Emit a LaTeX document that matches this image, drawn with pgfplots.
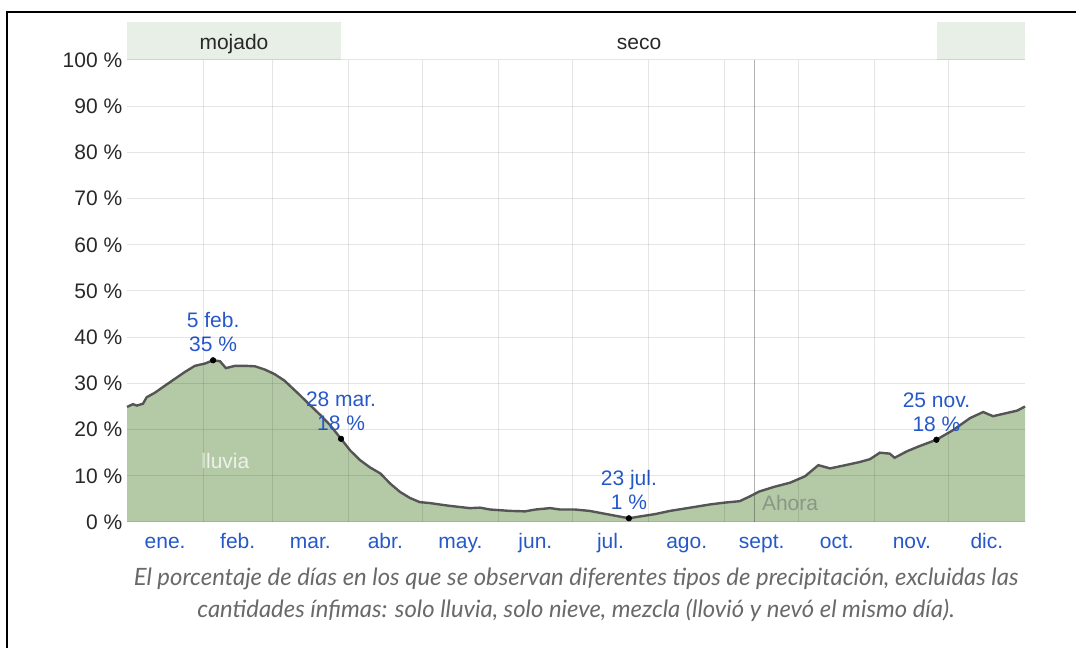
\documentclass[border=0pt]{standalone}
\usepackage{fontspec}
\setmainfont{Liberation Sans}
\newfontfamily\capfont{Lato}
\usepackage{pgfplots}
\usepackage{pgfplotstable}
\pgfplotsset{compat=1.18}
\definecolor{fillg}{RGB}{180,202,167}
\definecolor{lineg}{RGB}{85,85,85}
\definecolor{bandg}{RGB}{232,239,230}
\definecolor{blu}{RGB}{38,88,200}
\definecolor{capc}{RGB}{105,105,105}
\definecolor{tickc}{RGB}{40,40,40}

\pgfplotstableread{
day val
0 24.9
2.4 25.5
4 25.2
6.5 25.6
8 27.0
11.4 28.0
15.4 29.5
19.5 31.0
23.6 32.5
27.6 33.8
31.7 34.3
35 35.0
37.8 34.8
40.2 33.3
43.9 33.8
48 33.8
52 33.7
56 33.0
60 32.0
64 30.6
70 27.6
74 25.5
78.5 23.2
82.5 21.0
87 18.0
90.7 15.5
94.7 13.4
98.8 11.8
103 10.5
107 8.3
111 6.5
115 5.2
119 4.3
123 4.1
131 3.5
139.4 3.0
143.5 3.1
147.6 2.7
155.7 2.4
161.8 2.3
166 2.7
172 3.0
176 2.7
182 2.7
188 2.4
196 1.6
204 0.8
208.5 1.2
214.6 1.7
220.7 2.4
228.9 3.1
237 3.8
243 4.2
249 4.5
253 5.5
257 6.6
263 7.6
269.5 8.5
275.6 9.9
281 12.3
285.8 11.6
292 12.3
298 13.0
302 13.6
306 15.0
310 14.8
312 13.9
317 15.3
322 16.4
329 17.8
335.8 19.9
342.7 22.5
348 23.8
352 22.9
357.7 23.6
361.8 24.1
365 25.0
}\rain

\begin{document}
\begin{tikzpicture}[x=0.75pt,y=0.75pt]
\useasboundingbox (0,0) rectangle (1076,648);
\draw[line width=1.5pt] (7,0) -- (7,635.5) -- (1076,635.5);
\fill[bandg] (127,588) rectangle (341,626);
\fill[bandg] (937,588) rectangle (1025,626);
\node[font=\fontsize{15.75}{18}\selectfont, text=tickc] at (234,604) {mojado};
\node[font=\fontsize{15.75}{18}\selectfont, text=tickc] at (639,604) {seco};
\node[font=\capfont\itshape\fontsize{17.9}{24}\selectfont, text=capc, align=center] at (576,53) {El porcentaje de días en los que se observan diferentes tipos de precipitación, excluidas las\\cantidades ínfimas: solo lluvia, solo nieve, mezcla (llovió y nevó el mismo día).};
\begin{axis}[
  at={(95.25pt,94.5pt)}, anchor=south west,
  scale only axis, width=673.5pt, height=346.5pt,
  xmin=0, xmax=365, ymin=0, ymax=100,
  axis line style={draw=none},
  axis on top,
  clip=false,
  font=\fontsize{15.75}{18}\selectfont,
  /pgf/number format/assume math mode=true,
  xtick={15.5,45,74.5,105,135.5,166,196.5,227.5,258,288.5,319,349.5},
  xticklabels={ene.,feb.,mar.,abr.,may.,jun.,jul.,ago.,sept.,oct.,nov.,dic.},
  xticklabel style={text=blu, anchor=north, text height=0.75em, text depth=0.22em, yshift=-8.5pt},
  xtick style={draw=none},
  extra x ticks={31,59,90,120,151,181,212,243,273,304,334},
  extra x tick labels={},
  extra x tick style={grid=major, tick align=outside, major tick length=6pt, tick style={draw=black, opacity=0.1, line width=0.75pt}},
  ytick={0,10,...,100},
  yticklabels={0 \%,10 \%,20 \%,30 \%,40 \%,50 \%,60 \%,70 \%,80 \%,90 \%,100 \%},
  yticklabel style={text=tickc},
  ytick style={draw=none},
  ymajorgrids,
  major grid style={draw=black, opacity=0.1, line width=0.75pt},
]
\addplot[fill=fillg, draw=none] table[x=day,y=val] {\rain} \closedcycle;
\draw[black, opacity=0.3, line width=0.9pt] (axis cs:255,0) -- (axis cs:255,100);
\addplot[lineg, line width=1.8pt] table[x=day,y=val] {\rain};
\addplot[only marks, mark=*, mark size=2.1pt, black] coordinates {(35,35.0)(87,18.0)(204,0.8)(329,17.8)};
\node[text=blu, align=center, anchor=south, inner sep=0pt, yshift=6pt] at (axis cs:35,35) {5 feb.\\35 \%};
\node[text=blu, align=center, anchor=south, inner sep=0pt, yshift=6pt] at (axis cs:87,18) {28 mar.\\18 \%};
\node[text=blu, align=center, anchor=south, inner sep=0pt, yshift=6pt] at (axis cs:204,0.8) {23 jul.\\1 \%};
\node[text=blu, align=center, anchor=south, inner sep=0pt, yshift=6pt] at (axis cs:329,17.8) {25 nov.\\18 \%};
\node[text={rgb,255:red,236;green,241;blue,233}] at (axis cs:40,13.2) {lluvia};
\node[text={rgb,255:red,140;green,150;blue,135}] at (axis cs:269.5,4.1) {Ahora};
\end{axis}
\end{tikzpicture}
\end{document}
